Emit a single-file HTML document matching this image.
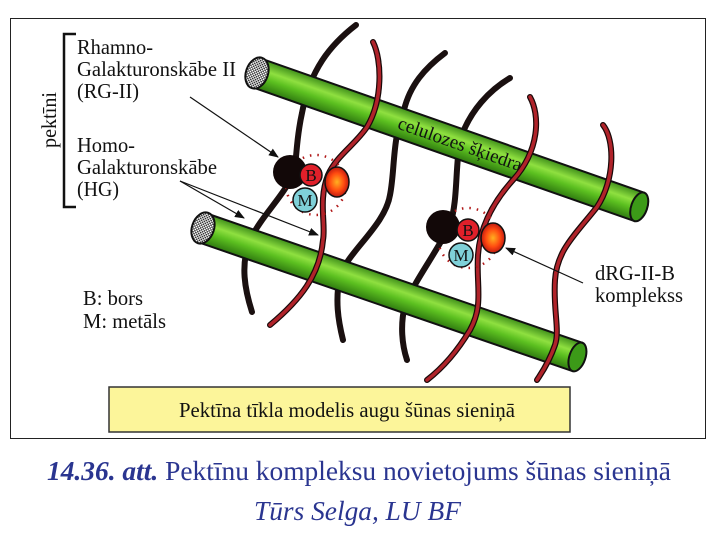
<!DOCTYPE html>
<html><head><meta charset="utf-8"><style>
body{margin:0;background:#fff;}
svg{display:block}
text{font-family:"Liberation Serif",serif;}
</style></head><body>
<svg width="726" height="534" viewBox="0 0 726 534" xmlns="http://www.w3.org/2000/svg">
<defs>
<linearGradient id="g" x1="0" y1="0" x2="0" y2="1">
<stop offset="0" stop-color="#3f8f1a"/><stop offset="0.35" stop-color="#8fe040"/><stop offset="0.6" stop-color="#5cc020"/><stop offset="1" stop-color="#2f7a10"/>
</linearGradient>
<pattern id="chk" width="3" height="3" patternUnits="userSpaceOnUse"><rect width="3" height="3" fill="#fff"/><rect width="1.5" height="1.5" fill="#333"/><rect x="1.5" y="1.5" width="1.5" height="1.5" fill="#333"/></pattern>
<radialGradient id="og"><stop offset="0" stop-color="#ffb020"/><stop offset="0.6" stop-color="#ff4a10"/><stop offset="1" stop-color="#c01a10"/></radialGradient>
<marker id="ah" markerWidth="10" markerHeight="8" refX="9" refY="4" orient="auto" markerUnits="userSpaceOnUse"><path d="M0,0 L10,4 L0,8 z" fill="#111"/></marker>
</defs>
<rect x="10.5" y="18.5" width="695" height="420" fill="#fff" stroke="#222" stroke-width="1"/>

<g fill="none" stroke="#1a1010" stroke-width="6" stroke-linecap="round">
<path d="M356,25 C330,45 310,70 302,113 C296,140 297,157 294,172 C285,195 262,215 250,240 C240,265 245,290 252,312"/>
<path d="M445,53 C425,68 410,85 404,110 C392,140 395,170 390,195 C385,225 350,250 340,275 C335,300 338,320 343,340"/>
<path d="M510,78 C490,90 470,110 460,140 C455,170 458,200 450,225 C435,255 415,280 405,305 C400,325 402,345 407,360"/>
</g>

<g transform="translate(257,73) rotate(19.3)">
<rect x="0" y="-15" width="405" height="30" fill="url(#g)" stroke="#111" stroke-width="2"/>
<ellipse cx="405" cy="0" rx="8" ry="15" fill="#3c9a18" stroke="#111" stroke-width="2"/>
<ellipse cx="0" cy="0" rx="11" ry="16" fill="url(#chk)" stroke="#111" stroke-width="2"/>
<text x="150" y="6" font-size="19" fill="#111">celulozes šķiedra</text>
</g>
<g transform="translate(203,228) rotate(19)">
<rect x="0" y="-15" width="396" height="30" fill="url(#g)" stroke="#111" stroke-width="2"/>
<ellipse cx="396" cy="0" rx="8" ry="15" fill="#3c9a18" stroke="#111" stroke-width="2"/>
<ellipse cx="0" cy="0" rx="11" ry="16" fill="url(#chk)" stroke="#111" stroke-width="2"/>
</g>

<g fill="none" stroke-linecap="round">
<g stroke="#1a0a0a" stroke-width="6">
<path d="M373,42 C382,60 383,100 367,127 C355,145 337,155 328,175 C318,200 326,225 323,240 C320,275 300,300 270,325"/>
<path d="M530,97 C540,115 540,150 513,180 C495,200 480,225 478,255 C476,285 484,305 470,330 C455,355 440,370 427,380"/>
<path d="M603,125 C615,140 615,180 597,207 C575,235 557,250 555,280 C553,310 560,330 555,345 C548,365 540,375 537,380"/>
</g>
<g stroke="#b0232a" stroke-width="3.5">
<path d="M373,42 C382,60 383,100 367,127 C355,145 337,155 328,175 C318,200 326,225 323,240 C320,275 300,300 270,325"/>
<path d="M530,97 C540,115 540,150 513,180 C495,200 480,225 478,255 C476,285 484,305 470,330 C455,355 440,370 427,380"/>
<path d="M603,125 C615,140 615,180 597,207 C575,235 557,250 555,280 C553,310 560,330 555,345 C548,365 540,375 537,380"/>
</g>
</g>

<g font-size="17">
<circle cx="316" cy="185" r="30" fill="none" stroke="#b01818" stroke-width="2.5" stroke-dasharray="1.5 6"/>
<circle cx="290" cy="172" r="17" fill="#120808"/>
<ellipse cx="337" cy="182" rx="12" ry="15" fill="url(#og)" stroke="#111" stroke-width="1.5"/>
<circle cx="311" cy="175" r="11" fill="#e0202a" stroke="#111" stroke-width="1.5"/>
<text x="311" y="181" text-anchor="middle" fill="#111">B</text>
<circle cx="305" cy="200" r="12" fill="#7fd0d8" stroke="#111" stroke-width="1.5"/>
<text x="305" y="206" text-anchor="middle" fill="#111">M</text>

<circle cx="468" cy="238" r="30" fill="none" stroke="#b01818" stroke-width="2.5" stroke-dasharray="1.5 6"/>
<circle cx="443" cy="227" r="17" fill="#120808"/>
<ellipse cx="493" cy="238" rx="12" ry="15" fill="url(#og)" stroke="#111" stroke-width="1.5"/>
<circle cx="468" cy="230" r="11" fill="#e0202a" stroke="#111" stroke-width="1.5"/>
<text x="468" y="236" text-anchor="middle" fill="#111">B</text>
<circle cx="461" cy="255" r="12" fill="#7fd0d8" stroke="#111" stroke-width="1.5"/>
<text x="461" y="261" text-anchor="middle" fill="#111">M</text>
</g>

<g stroke="#111" stroke-width="1.2" fill="none" marker-end="url(#ah)">
<line x1="190" y1="97" x2="278" y2="157"/>
<line x1="180" y1="181" x2="244" y2="218"/>
<line x1="180" y1="181" x2="318" y2="235"/>
<line x1="583" y1="283" x2="506" y2="248"/>
</g>

<path d="M76,34 L64,34 L64,207 L76,207" fill="none" stroke="#111" stroke-width="2.5"/>
<text transform="translate(56,120) rotate(-90)" text-anchor="middle" font-size="21" fill="#111" textLength="56" lengthAdjust="spacingAndGlyphs">pektīni</text>
<g font-size="21" fill="#111">
<text x="77" y="54" textLength="76" lengthAdjust="spacingAndGlyphs">Rhamno-</text>
<text x="77" y="76" textLength="159" lengthAdjust="spacingAndGlyphs">Galakturonskābe II</text>
<text x="77" y="98" textLength="62" lengthAdjust="spacingAndGlyphs">(RG-II)</text>
<text x="77" y="152" textLength="58" lengthAdjust="spacingAndGlyphs">Homo-</text>
<text x="77" y="174" textLength="140" lengthAdjust="spacingAndGlyphs">Galakturonskābe</text>
<text x="77" y="196" textLength="42" lengthAdjust="spacingAndGlyphs">(HG)</text>
<text x="83" y="305" textLength="60" lengthAdjust="spacingAndGlyphs">B: bors</text>
<text x="83" y="328" textLength="83" lengthAdjust="spacingAndGlyphs">M: metāls</text>
<text x="595" y="280" textLength="80" lengthAdjust="spacingAndGlyphs">dRG-II-B</text>
<text x="595" y="302" textLength="88" lengthAdjust="spacingAndGlyphs">komplekss</text>
</g>

<rect x="109" y="387" width="461" height="45" fill="#fcf59a" stroke="#333" stroke-width="1.5"/>
<text x="179" y="417" font-size="21" fill="#111" textLength="336" lengthAdjust="spacingAndGlyphs">Pektīna tīkla modelis augu šūnas sieniņā</text>

<text x="47" y="480" font-size="27" fill="#2a3590" textLength="624" lengthAdjust="spacingAndGlyphs"><tspan font-weight="bold" font-style="italic">14.36. att.</tspan> Pektīnu kompleksu novietojums šūnas sieniņā</text>
<text x="254" y="520" font-size="27" font-style="italic" fill="#2a3590" textLength="207" lengthAdjust="spacingAndGlyphs">Tūrs Selga, LU BF</text>
</svg>
</body></html>
